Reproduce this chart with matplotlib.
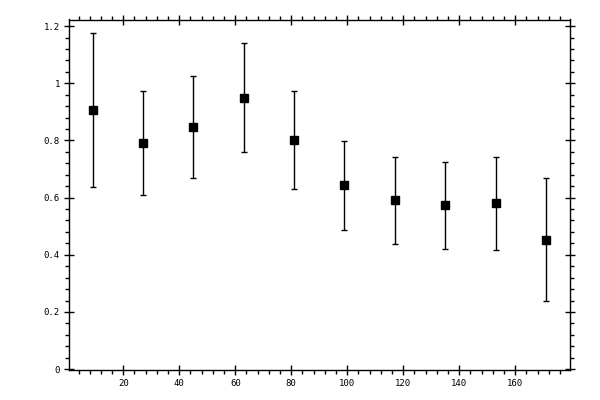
import matplotlib
matplotlib.use("Agg")
import matplotlib.pyplot as plt
from matplotlib.ticker import MultipleLocator, FuncFormatter

x = [9, 27, 45, 63, 81, 99, 117, 135, 153, 171]
y = [0.907, 0.791, 0.848, 0.950, 0.802, 0.643, 0.590, 0.573, 0.580, 0.453]
y_hi = [1.177, 0.974, 1.026, 1.142, 0.974, 0.798, 0.742, 0.724, 0.742, 0.667]
y_lo = [0.636, 0.608, 0.668, 0.760, 0.629, 0.485, 0.439, 0.421, 0.418, 0.238]

err_lo = [v - l for v, l in zip(y, y_lo)]
err_hi = [h - v for v, h in zip(y, y_hi)]

fig = plt.figure(figsize=(6, 4), dpi=100)
ax = fig.add_axes([69/600, 30/400, 501/600, 350.5/400])

ax.errorbar(x, y, yerr=[err_lo, err_hi], fmt='s', color='black',
            markersize=5.4, elinewidth=1.0, capsize=2.2, capthick=1.0,
            ecolor='black')

ax.set_xlim(0.6, 179.6)
ax.set_ylim(-0.003, 1.223)

ax.xaxis.set_major_locator(MultipleLocator(20))
ax.xaxis.set_minor_locator(MultipleLocator(4))
ax.yaxis.set_major_locator(MultipleLocator(0.2))
ax.yaxis.set_minor_locator(MultipleLocator(0.04))

ax.yaxis.set_major_formatter(FuncFormatter(lambda v, p: f"{v:g}" if abs(v) > 1e-9 else "0"))
ax.xaxis.set_major_formatter(FuncFormatter(lambda v, p: f"{v:g}"))

for s in ax.spines.values():
    s.set_linewidth(1.0)

ax.tick_params(which='major', direction='inout', length=7, width=1.0,
               top=True, right=True, labelsize=6.5, pad=3)
ax.tick_params(which='minor', direction='out', length=3, width=1.0,
               top=True, right=True)
for lab in ax.get_xticklabels() + ax.get_yticklabels():
    lab.set_family('DejaVu Sans Mono')

fig.savefig("out.png", dpi=100)
